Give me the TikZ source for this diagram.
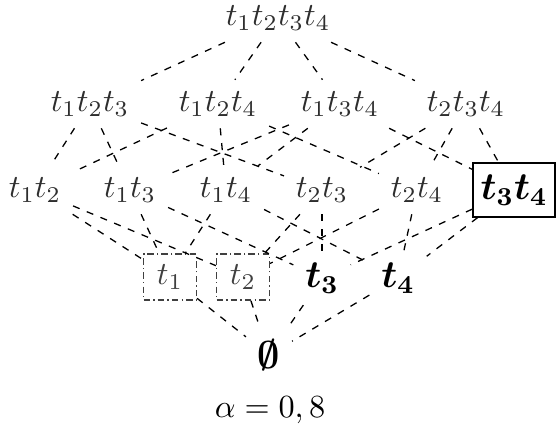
\documentclass[tikz,border=0pt]{standalone}
\usepackage{amsmath,amssymb}
\usetikzlibrary{arrows,shapes}

\begin{document}
\begin{tikzpicture}[x=0.31pt,y=-0.31pt,
  every node/.style={inner sep=3.5pt},
  subset/.style={text=black!82},
  chosen/.style={font=\large\boldmath},
  cand/.style={draw=black!75,text=black!75,dash pattern=on 2pt off 1pt on 0.4pt off 1pt,minimum width=16.4pt,minimum height=14.3pt,inner sep=1pt},
  link/.style={dash pattern=on 2.2pt off 2.4pt,line width=0.4pt}]
\useasboundingbox (0,0) rectangle (557,439);

\node[subset] (T1234) at (278,18) {$t_1t_2t_3t_4$};

\node[subset] (T123) at (90,104) {$t_1t_2t_3$};
\node[subset] (T124) at (218,104) {$t_1t_2t_4$};
\node[subset] (T134) at (340,104) {$t_1t_3t_4$};
\node[subset] (T234) at (466,104) {$t_2t_3t_4$};

\node[subset] (T12) at (35,190) {$t_1t_2$};
\node[subset] (T13) at (130,190) {$t_1t_3$};
\node[subset] (T14) at (226,190) {$t_1t_4$};
\node[subset] (T23) at (322,190) {$t_2t_3$};
\node[subset] (T24) at (417,190) {$t_2t_4$};
\node[chosen,draw,inner sep=2pt,minimum width=25.4pt,minimum height=16.7pt] (T34) at (514,190) {$t_3t_4$};

\node[cand] (T1) at (170,277) {$t_1$};
\node[cand] (T2) at (243,277) {$t_2$};
\node[chosen] (T3) at (322,278) {$t_3$};
\node[chosen] (T4) at (398,278) {$t_4$};

\node[chosen] (E) at (269,355) {$\emptyset$};

\node (alpha) at (270,410) {$\alpha=0,8$};

\foreach \a in {T123,T124,T134,T234}
  \draw[link] (T1234) -- (\a);
\foreach \a/\b in {T123/T12,T123/T13,T123/T23,T124/T12,T124/T14,T124/T24,
                   T134/T13,T134/T14,T134/T34,T234/T23,T234/T24,T234/T34}
  \draw[link] (\a) -- (\b);
\foreach \a/\b in {T12/T1,T12/T2,T13/T1,T13/T3,T14/T1,T14/T4,
                   T23/T2,T23/T3,T24/T2,T24/T4,T34/T3,T34/T4}
  \draw[link] (\a) -- (\b);
\foreach \a in {T1,T2,T3,T4}
  \draw[link] (\a) -- (E);
\end{tikzpicture}
\end{document}
